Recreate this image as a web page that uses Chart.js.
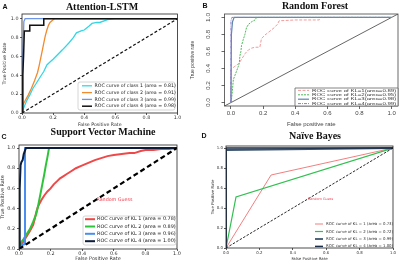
<!DOCTYPE html>
<html><head><meta charset="utf-8">
<script src="https://cdn.jsdelivr.net/npm/chart.js@4.4.0/dist/chart.umd.min.js"></script>
<style>
html,body{margin:0;padding:0;background:#fff;}
body{width:400px;height:264px;position:relative;overflow:hidden;}
canvas{position:absolute;}
.t{position:absolute;font-family:'Liberation Serif',serif;font-weight:bold;font-size:10px;white-space:nowrap;transform:translate(-50%,-50%);color:#111;line-height:1;z-index:5;}
.l{position:absolute;font-family:'Liberation Sans',Arial,sans-serif;font-weight:bold;font-size:7px;color:#111;line-height:1;transform:translate(-50%,-50%);z-index:5;}
</style></head><body>
<canvas id="cA" width="200" height="132" style="left:0;top:0"></canvas>
<canvas id="cB" width="214" height="132" style="left:186px;top:0"></canvas>
<canvas id="cC" width="200" height="132" style="left:0;top:132px"></canvas>
<canvas id="cD" width="200" height="132" style="left:200px;top:132px"></canvas>
<div class="t" style="left:102px;top:7px">Attention-LSTM</div>
<div class="t" style="left:315px;top:6px">Random Forest</div>
<div class="t" style="left:103px;top:132px">Support Vector Machine</div>
<div class="t" style="left:315px;top:136px">Naïve Bayes</div>
<div class="l" style="left:5px;top:6px">A</div>
<div class="l" style="left:205px;top:5px">B</div>
<div class="l" style="left:4px;top:136px">C</div>
<div class="l" style="left:204px;top:135px">D</div>
<script>
// ---- shared ----
const ticks01 = [0, 0.2, 0.4, 0.6, 0.8, 1.0];
const DIAG = [0, 1];
const DIAG_R = [-0.04, 1.04];
const GUESS_TEXT = 'Random Guess';

// ---- Panel A: Attention-LSTM ----
const A_fpr1 = [0, 0.01, 0.03, 0.05, 0.07, 0.09, 0.12, 0.14, 0.16, 0.18, 0.2, 0.23, 0.26, 0.3, 0.33, 0.35, 0.38, 0.4, 0.43, 0.45, 0.48, 0.5, 0.55, 0.6, 1];
const A_tpr1 = [0, 0.05, 0.13, 0.19, 0.26, 0.31, 0.39, 0.44, 0.51, 0.54, 0.57, 0.62, 0.67, 0.74, 0.8, 0.85, 0.87, 0.88, 0.92, 0.95, 0.96, 0.96, 0.99, 1, 1];
const A_fpr2 = [0, 0, 0.02, 0.04, 0.06, 0.08, 0.1, 0.11, 0.12, 0.13, 0.14, 0.15, 0.16, 0.17, 0.18, 0.2, 0.21, 1];
const A_tpr2 = [0, 0.07, 0.13, 0.19, 0.26, 0.34, 0.43, 0.5, 0.58, 0.66, 0.74, 0.82, 0.88, 0.93, 0.96, 0.99, 1, 1];
const A_fpr3 = [0, 0.005, 0.012, 0.02, 1];
const A_tpr3 = [0, 0.6, 0.97, 1, 1];
const A_fpr4 = [0, 0.005, 0.01, 0.015, 0.05, 0.05, 0.14, 0.14, 1];
const A_tpr4 = [0, 0.4, 0.6, 0.87, 0.87, 0.93, 0.93, 1, 1];
const A_labels = ['ROC curve of class 1 (area = 0.81)', 'ROC curve of class 2 (area = 0.91)', 'ROC curve of class 3 (area = 0.99)', 'ROC curve of class 4 (area = 0.98)'];

// ---- Panel B: Random Forest ----
const B_fpr1 = [0, 0, 0.02, 0.05, 0.07, 0.09, 0.11, 0.13, 0.15, 0.17, 0.18, 0.19, 0.21, 0.23, 0.25, 0.27, 0.29, 0.3, 0.4, 0.5, 0.55, 0.55, 1];
const B_tpr1 = [0, 0.39, 0.42, 0.46, 0.52, 0.58, 0.62, 0.64, 0.65, 0.65, 0.65, 0.75, 0.79, 0.82, 0.85, 0.88, 0.92, 0.96, 0.97, 0.97, 0.97, 1, 1];
const B_fpr2 = [0, 0.005, 0.01, 0.015, 0.025, 0.035, 0.045, 0.052, 0.056, 0.062, 0.066, 0.075, 0.087, 0.097, 0.11, 0.13, 0.15, 0.16, 1];
const B_tpr2 = [0, 0.06, 0.16, 0.27, 0.32, 0.37, 0.42, 0.46, 0.55, 0.6, 0.67, 0.73, 0.8, 0.88, 0.92, 0.95, 0.97, 1, 1];
const B_fpr3 = [0, 0.003, 0.01, 0.02, 1];
const B_tpr3 = [0, 0.8, 0.95, 1, 1];
const B_fpr4 = [0, 0, 0.006, 1];
const B_tpr4 = [0, 0.96, 1, 1];
const B_labels = ['ROC curve of KL=1(area=0.89)', 'ROC curve of KL=2(area=0.95)', 'ROC curve of KL=3(area=0.98)', 'ROC curve of KL=4(area=0.99)'];

// ---- Panel C: Support Vector Machine ----
const C_fpr1 = [0, 0.01, 0.03, 0.05, 0.07, 0.09, 0.1, 0.11, 0.12, 0.14, 0.16, 0.18, 0.2, 0.22, 0.24, 0.26, 0.28, 0.3, 0.33, 0.36, 0.39, 0.42, 0.45, 0.48, 0.52, 0.56, 0.6, 0.65, 0.7, 0.73, 0.77, 0.8, 0.85, 0.9, 0.95, 1];
const C_tpr1 = [0, 0.03, 0.08, 0.13, 0.18, 0.24, 0.3, 0.37, 0.42, 0.48, 0.53, 0.57, 0.6, 0.64, 0.67, 0.7, 0.72, 0.74, 0.77, 0.8, 0.82, 0.84, 0.86, 0.88, 0.9, 0.92, 0.93, 0.94, 0.95, 0.95, 0.97, 0.98, 0.98, 0.99, 0.99, 1];
const C_fpr2 = [0, 0.01, 0.03, 0.05, 0.07, 0.09, 0.11, 0.12, 0.13, 0.14, 0.15, 0.16, 0.17, 0.18, 0.19, 1];
const C_tpr2 = [0, 0.06, 0.1, 0.15, 0.2, 0.27, 0.35, 0.42, 0.5, 0.58, 0.66, 0.74, 0.83, 0.91, 1, 1];
const C_fpr3 = [0, 0.02, 0.038, 0.038, 1];
const C_tpr3 = [0, 0.04, 0.05, 1, 1];
const C_fpr4 = [0, 0.003, 0.006, 0.01, 0.015, 0.023, 0.03, 0.044, 1];
const C_tpr4 = [0, 0.35, 0.6, 0.83, 0.86, 0.88, 0.94, 1, 1];
const C_labels = ['ROC curve of KL 1 (area = 0.78)', 'ROC curve of KL 2 (area = 0.89)', 'ROC curve of KL 3 (area = 0.96)', 'ROC curve of KL 4 (area = 1.00)'];

// ---- Panel D: Naive Bayes ----
const D_fpr1 = [0, 0.27, 1];
const D_tpr1 = [0, 0.73, 1];
const D_fpr2 = [0, 0.06, 1];
const D_tpr2 = [0, 0.51, 1];
const D_fpr3 = [0, 0, 1];
const D_tpr3 = [0, 0.98, 1];
const D_fpr4 = [0, 0, 1];
const D_tpr4 = [0, 1, 1];
const D_labels = ['ROC curve of KL = 1 (area = 0.73)', 'ROC curve of KL = 2 (area = 0.72)', 'ROC curve of KL = 3 (area = 0.99)', 'ROC curve of KL = 4 (area = 1.00)'];

// ---- helpers ----
const pts = (xs, ys) => xs.map((x, i) => ({x: x, y: ys[i]}));
const fmt = v => Number(v).toFixed(1);
function line(label, xs, ys, color, width, dash, order) {
  return {label: label, data: pts(xs, ys), borderColor: color, borderWidth: width, borderDash: dash || [],
    pointRadius: 0, pointHoverRadius: 0, tension: 0, fill: false, order: order};
}
function axis(c) {
  return {
    type: 'linear', min: c.min, max: c.max,
    afterFit: s => { if (c.isX) s.height = c.size; else s.width = c.size; },
    afterBuildTicks: s => { s.ticks = ticks01.map(v => ({value: v})); },
    ticks: Object.assign({font: c.tickFont, color: c.color, padding: c.tickPad, maxRotation: 0, minRotation: 0,
      autoSkip: false, callback: fmt}, c.tickExtra || {}),
    grid: {display: true, drawOnChartArea: false, drawTicks: true, tickLength: c.tickLen, color: c.color, lineWidth: 0.8},
    border: {display: false},
    title: {display: true, text: c.title, font: c.titleFont, color: c.color, padding: c.titlePad}
  };
}
const framePlugin = {id: 'frame', afterDatasetsDraw(chart, args, o) {
  if (!o || !o.color) return;
  const a = chart.chartArea, c = chart.ctx;
  c.save(); c.strokeStyle = o.color; c.lineWidth = o.width || 1; c.setLineDash([]);
  c.strokeRect(a.left, a.top, a.right - a.left, a.bottom - a.top);
  c.restore();
}};
// rotated (R-style) y tick labels, positioned with the library's y scale
const rotTicks = {id: 'rotTicks', afterDraw(chart, args, o) {
  if (!o || !o.font) return;
  const c = chart.ctx, ys = chart.scales.y;
  c.save(); c.fillStyle = o.color; c.font = o.font; c.textAlign = 'center'; c.textBaseline = 'middle';
  ys.ticks.forEach(t => {
    c.save(); c.translate(o.x, ys.getPixelForValue(t.value)); c.rotate(-Math.PI / 2);
    c.scale(o.sx || 1, 1); c.fillText(fmt(t.value), 0, 0); c.restore();
  });
  c.restore();
}};
const guessPlugin = {id: 'guess', afterDatasetsDraw(chart, args, o) {
  if (!o || !o.text) return;
  const c = chart.ctx;
  c.save(); c.fillStyle = o.color; c.font = o.font; c.textBaseline = 'middle'; c.textAlign = 'left';
  c.fillText(o.text, chart.scales.x.getPixelForValue(o.x), chart.scales.y.getPixelForValue(o.y));
  c.restore();
}};
const boxLegend = {id: 'boxLegend', afterDraw(chart, args, o) {
  if (!o || !o.rows) return;
  const c = chart.ctx;
  c.save();
  if (o.box) {
    c.fillStyle = o.fill || 'rgba(255,255,255,0.85)';
    c.strokeStyle = o.box; c.lineWidth = 0.8;
    c.beginPath();
    if (c.roundRect) c.roundRect(o.box_x, o.box_y, o.box_w, o.box_h, o.radius || 0); else c.rect(o.box_x, o.box_y, o.box_w, o.box_h);
    c.fill(); c.stroke();
  }
  const ds = chart.data.datasets.filter(d => d.label);
  ds.forEach((d, i) => {
    const y = o.rows[i];
    c.strokeStyle = d.borderColor; c.lineWidth = d.borderWidth; c.setLineDash(d.borderDash || []);
    c.beginPath(); c.moveTo(o.lineX[0], y); c.lineTo(o.lineX[1], y); c.stroke();
    c.setLineDash([]);
    c.fillStyle = o.textColor; c.font = o.font; c.textBaseline = 'middle'; c.textAlign = 'left';
    c.save(); c.translate(o.textX, y); c.scale(o.sx || 1, 1); c.fillText(d.label, 0, 0); c.restore();
  });
  c.restore();
}};
const PLUGINS = [framePlugin, guessPlugin, boxLegend, rotTicks];
function baseOpts(pad, plug, x, y) {
  return {responsive: false, animation: false, events: [], layout: {padding: pad},
    plugins: Object.assign({legend: {display: false}, tooltip: {enabled: false}}, plug),
    scales: {x: x, y: y}};
}
const MPL = 'DejaVu Sans';
const RF = 'Liberation Sans';

// ---- Chart A ----
new Chart(document.getElementById('cA'), {
  type: 'line',
  data: {datasets: [
    line(A_labels[0], A_fpr1, A_tpr1, '#35d6e4', 1.3, null, 5),
    line(A_labels[1], A_fpr2, A_tpr2, '#f28a2e', 1.3, null, 4),
    line(A_labels[2], A_fpr3, A_tpr3, '#6f95e8', 1.3, null, 3),
    line(A_labels[3], A_fpr4, A_tpr4, '#111111', 1.5, null, 2),
    line(null, DIAG, DIAG, '#111111', 1.2, [3, 2], 1)
  ]},
  options: baseOpts({left: 0, right: 22.5, top: 14, bottom: 0},
    {frame: {color: '#222', width: 0.8},
     boxLegend: {box: '#cccccc', box_x: 78, box_y: 82, box_w: 97, box_h: 28, radius: 2,
       rows: [85.8, 92.6, 99.4, 106.2], lineX: [82, 92], textX: 94.5, font: '4.7px "DejaVu Sans"', textColor: '#222'}},
    axis({isX: true, min: 0, max: 1, size: 19, tickFont: {family: MPL, size: 4.8}, color: '#333', tickPad: 0, tickLen: 2,
      title: 'False Positive Rate', titleFont: {family: MPL, size: 4.7}, titlePad: {top: 0, bottom: 4.5}}),
    axis({isX: false, min: 0, max: 1.05, size: 22, tickFont: {family: MPL, size: 4.8}, color: '#333', tickPad: 1.5, tickLen: 2,
      title: 'True Positive Rate', titleFont: {family: MPL, size: 4.7}, titlePad: {top: 2, bottom: 0}})),
  plugins: PLUGINS
});

// ---- Chart B ----
new Chart(document.getElementById('cB'), {
  type: 'line',
  data: {datasets: [
    line(B_labels[0], B_fpr1, B_tpr1, '#f29a9a', 1, [3, 1.5], 5),
    line(B_labels[1], B_fpr2, B_tpr2, '#4fb85a', 1, [2, 1], 4),
    line(B_labels[2], B_fpr3, B_tpr3, '#5f86ad', 1.2, null, 3),
    line(B_labels[3], B_fpr4, B_tpr4, '#8a7ccc', 1, [3, 1, 1, 1], 2),
    line(null, DIAG_R, DIAG_R, '#555555', 0.9, null, 6)
  ]},
  options: baseOpts({left: 0, right: 2, top: 14, bottom: 0},
    {frame: {color: '#444', width: 0.8},
     rotTicks: {x: 23, font: '5px "Liberation Sans"', sx: 1.3, color: '#444'},
     boxLegend: {box: '#666666', box_x: 109, box_y: 88, box_w: 103, box_h: 18, radius: 0, fill: '#ffffff',
       rows: [90.4, 94.8, 99.2, 103.6], lineX: [112, 123], textX: 126, sx: 1.38, font: '4.4px "Liberation Sans"', textColor: '#333'}},
    axis({isX: true, min: -0.04, max: 1.04, size: 26, tickFont: {family: RF, size: 6}, color: '#444', tickPad: 0.4, tickLen: 3,
      title: 'False positive rate', titleFont: {family: RF, size: 6}, titlePad: {top: 0, bottom: 4.4}}),
    axis({isX: false, min: -0.04, max: 1.04, size: 38.5, tickFont: {family: RF, size: 6}, color: '#444', tickPad: 8.3, tickLen: 3,
      tickExtra: {display: false},
      title: 'True positive rate', titleFont: {family: RF, size: 5}, titlePad: {top: 4, bottom: 0}})),
  plugins: PLUGINS
});

// ---- Chart C ----
new Chart(document.getElementById('cC'), {
  type: 'line',
  data: {datasets: [
    line(C_labels[0], C_fpr1, C_tpr1, '#f04848', 2, null, 5),
    line(C_labels[1], C_fpr2, C_tpr2, '#2ec43a', 2, null, 4),
    line(C_labels[2], C_fpr3, C_tpr3, '#4a8fef', 2, null, 3),
    line(C_labels[3], C_fpr4, C_tpr4, '#0b1d3a', 2, null, 2),
    line(null, DIAG, DIAG, '#000000', 2.2, [5, 3], 1)
  ]},
  options: baseOpts({left: 0, right: 23, top: 13, bottom: 0},
    {frame: {color: '#222', width: 0.8},
     guess: {text: GUESS_TEXT, x: 0.49, y: 0.49, color: '#f03a4a', font: '4.8px "DejaVu Sans"'},
     boxLegend: {box: '#cccccc', box_x: 83, box_y: 84, box_w: 93, box_h: 29, radius: 2,
       rows: [87.2, 94.5, 101.8, 109.2], lineX: [85, 95], textX: 97, font: '4.9px "DejaVu Sans"', textColor: '#222'}},
    axis({isX: true, min: 0, max: 1, size: 15, tickFont: {family: MPL, size: 4.9}, color: '#333', tickPad: 0, tickLen: 2,
      title: 'False Positive Rate', titleFont: {family: MPL, size: 4.9}, titlePad: {top: 0, bottom: 2}}),
    axis({isX: false, min: 0, max: 1.03, size: 19, tickFont: {family: MPL, size: 4.9}, color: '#333', tickPad: 2, tickLen: 2,
      title: 'True Positive Rate', titleFont: {family: MPL, size: 4.9}, titlePad: {top: 0, bottom: 0}})),
  plugins: PLUGINS
});

// ---- Chart D ----
new Chart(document.getElementById('cD'), {
  type: 'line',
  data: {datasets: [
    line(D_labels[0], D_fpr1, D_tpr1, '#f07070', 0.9, null, 5),
    line(D_labels[1], D_fpr2, D_tpr2, '#30c050', 1.2, null, 4),
    line(D_labels[2], D_fpr3, D_tpr3, '#3c566e', 1.8, null, 3),
    line(D_labels[3], D_fpr4, D_tpr4, '#1a2d48', 1.5, null, 2),
    line(null, DIAG, DIAG, '#111111', 0.9, [2.5, 1.5], 1)
  ]},
  options: baseOpts({left: 0, right: 7, top: 14, bottom: 0},
    {frame: {color: '#222', width: 0.8},
     guess: {text: GUESS_TEXT, x: 0.49, y: 0.49, color: '#f03a4a', font: '3.4px "DejaVu Sans"'},
     boxLegend: {rows: [92, 99.5, 107, 114.4], lineX: [115, 123], textX: 126, font: '3.9px "DejaVu Sans"', textColor: '#333'}},
    axis({isX: true, min: 0, max: 1, size: 16, tickFont: {family: MPL, size: 3.9}, color: '#333', tickPad: 0.7, tickLen: 2,
      title: 'False Positive Rate', titleFont: {family: MPL, size: 3.9}, titlePad: {top: 0, bottom: 3}}),
    axis({isX: false, min: 0, max: 1.02, size: 26, tickFont: {family: MPL, size: 3.9}, color: '#333', tickPad: 1, tickLen: 2,
      title: 'True Positive Rate', titleFont: {family: MPL, size: 3.9}, titlePad: {top: 10.7, bottom: 0}})),
  plugins: PLUGINS
});
</script>
</body></html>
